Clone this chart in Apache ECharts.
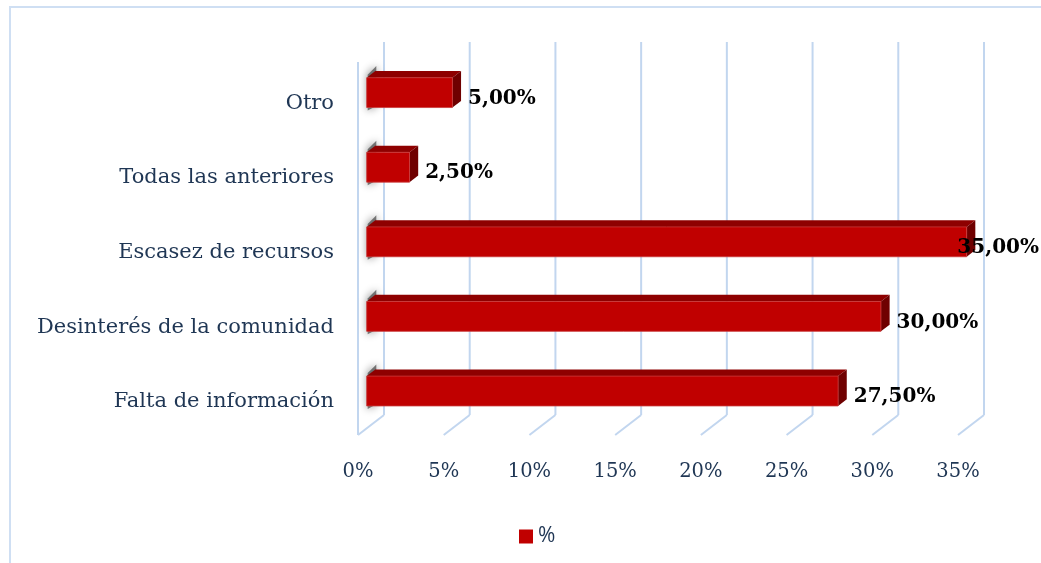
<!DOCTYPE html>
<html>
<head>
<meta charset="utf-8">
<script src="https://cdn.jsdelivr.net/npm/echarts@6/dist/echarts.min.js"></script>
<style>
  html, body { margin: 0; padding: 0; background: #ffffff; }
  #chart { width: 1041px; height: 563px; }
</style>
</head>
<body>
<div id="chart"></div>
<script>
// Categories (top to bottom) and their shares in percent
const categories = ['Otro', 'Todas las anteriores', 'Escasez de recursos', 'Desinterés de la comunidad', 'Falta de información'];
const values = [5.0, 2.5, 35.0, 30.0, 27.5];
const valueLabels = ['5,00%', '2,50%', '35,00%', '30,00%', '27,50%'];
const tickValues = [0, 5, 10, 15, 20, 25, 30, 35];
const seriesName = '%';

// Oblique projection of the depth axis (front plane -> back wall)
const DEPTH_X = 26;
const DEPTH_Y = -20;
const BAR_FRONT = 1 / 3;
const BAR_BACK = 2 / 3;

const GRID_COLOR = '#c2d6ef';
const TEXT_COLOR = '#1f3654';
const LABEL_FONT = 'bold 20px "DejaVu Serif"';

const measureCtx = document.createElement('canvas').getContext('2d');
function textWidth(str, font) {
  measureCtx.font = font;
  return measureCtx.measureText(str).width;
}

const chart = echarts.init(document.getElementById('chart'), null, { renderer: 'canvas' });

function renderGridLine(params, api) {
  const v = api.value(0);
  const rect = params.coordSys;
  const p = api.coord([v, api.value(1)]);
  const x = p[0];
  const yBottom = rect.y + rect.height;
  const style = { stroke: GRID_COLOR, lineWidth: 2 };
  const children = [
    // floor line
    { type: 'line', shape: { x1: x, y1: yBottom, x2: x + DEPTH_X, y2: yBottom + DEPTH_Y }, style: style },
    // back wall line
    { type: 'line', shape: { x1: x + DEPTH_X, y1: yBottom + DEPTH_Y, x2: x + DEPTH_X, y2: rect.y + DEPTH_Y }, style: style }
  ];
  if (params.dataIndex === 0) {
    // front edge of the side wall
    children.push({ type: 'line', shape: { x1: x, y1: rect.y, x2: x, y2: yBottom }, style: style });
  }
  return { type: 'group', children: children };
}

function renderBar(params, api) {
  const v = api.value(0);
  const ci = api.value(1);
  const start = api.coord([0, ci]);
  const end = api.coord([v, ci]);
  const band = api.size([0, 1])[1];
  const barH = band * 0.4;
  const fx = DEPTH_X * BAR_FRONT, fy = DEPTH_Y * BAR_FRONT;
  const dx = DEPTH_X * (BAR_BACK - BAR_FRONT), dy = DEPTH_Y * (BAR_BACK - BAR_FRONT);
  const yc = start[1] + fy;
  const top = yc - barH / 2;
  const bottom = yc + barH / 2;
  const x0 = start[0] + fx;
  const x1 = end[0] + fx;

  const label = valueLabels[params.dataIndex];
  const w = textWidth(label, LABEL_FONT);
  let lx = x1 + dx + 7;
  const maxRight = params.coordSys.x + params.coordSys.width + 81;
  if (lx + w > maxRight) lx = maxRight - w;

  return {
    type: 'group',
    children: [
      // soft shadow where the bar meets the side wall
      {
        type: 'polygon',
        shape: { points: [[x0 + 1, top - 3], [x0 + dx + 1, top + dy - 5], [x0 + dx + 1, bottom + dy + 5], [x0 + 1, bottom + 3]] },
        style: { fill: 'rgba(70,70,70,0.7)', shadowBlur: 8, shadowColor: 'rgba(0,0,0,0.7)' }
      },
      {
        type: 'polygon',
        shape: { points: [[x0, top], [x1, top], [x1 + dx, top + dy], [x0 + dx, top + dy]] },
        style: { fill: '#8e0000' }
      },
      {
        type: 'polygon',
        shape: { points: [[x1, top], [x1 + dx, top + dy], [x1 + dx, bottom + dy], [x1, bottom]] },
        style: { fill: '#6f0000' }
      },
      {
        type: 'rect',
        shape: { x: x0, y: top, width: x1 - x0, height: barH },
        style: { fill: '#c00000', stroke: '#c93a3a', lineWidth: 0.8 }
      },
      {
        type: 'text',
        style: {
          x: lx, y: yc + 6, text: label,
          font: LABEL_FONT, fill: '#000000',
          align: 'left', verticalAlign: 'middle'
        }
      }
    ]
  };
}

const option = {
  animation: false,
  backgroundColor: '#ffffff',
  graphic: [{
    type: 'rect',
    shape: { x: 10, y: 7, width: 1200, height: 700 },
    style: { fill: 'none', stroke: '#cfdff3', lineWidth: 2 },
    silent: true
  }],
  grid: { left: 358, top: 62, width: 600, height: 373 },
  xAxis: {
    type: 'value',
    min: 0, max: 35, interval: 5,
    axisLine: { show: false },
    axisTick: { show: false },
    splitLine: { show: false },
    axisLabel: {
      formatter: '{value}%',
      margin: 27,
      color: TEXT_COLOR,
      fontFamily: 'DejaVu Serif',
      fontSize: 19.5
    }
  },
  yAxis: {
    type: 'category',
    data: categories,
    inverse: true,
    axisLine: { show: false },
    axisTick: { show: false },
    splitLine: { show: false },
    axisLabel: {
      margin: 24,
      verticalAlign: 'top',
      lineHeight: 8,
      color: TEXT_COLOR,
      fontFamily: 'DejaVu Serif',
      fontSize: 21
    }
  },
  legend: {
    data: [{ name: seriesName, icon: 'rect', itemStyle: { color: '#c00000' } }],
    left: 514, top: 521,
    itemWidth: 14, itemHeight: 14,
    textStyle: { color: TEXT_COLOR, fontFamily: 'Open Sans', fontSize: 21 }
  },
  series: [
    {
      type: 'custom',
      name: 'grid-lines',
      silent: true,
      z: 1,
      encode: { x: 0, y: 1 },
      data: tickValues.map(t => [t, 0]),
      renderItem: renderGridLine
    },
    {
      type: 'custom',
      name: seriesName,
      z: 2,
      itemStyle: { color: '#c00000' },
      encode: { x: 0, y: 1 },
      data: values.map((v, i) => [v, i]),
      renderItem: renderBar
    }
  ]
};

chart.setOption(option);
</script>
</body>
</html>
